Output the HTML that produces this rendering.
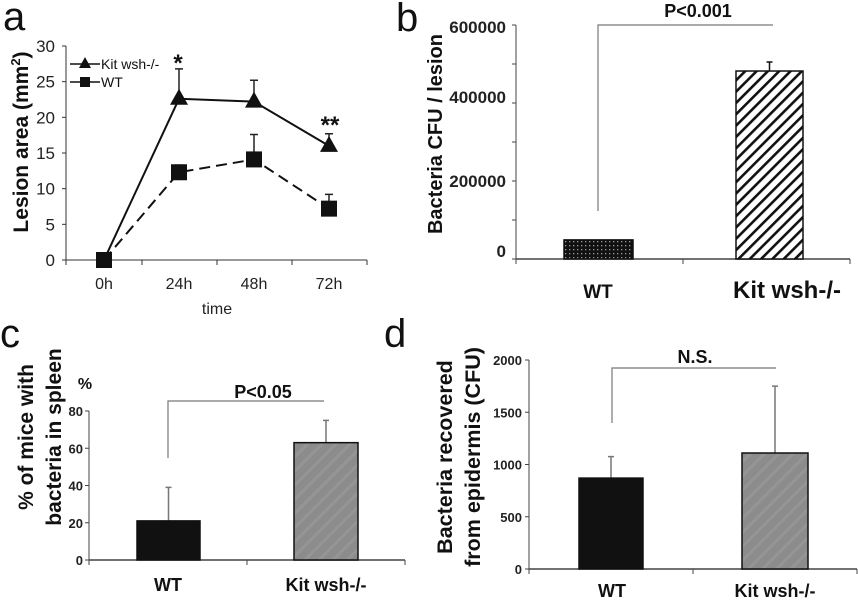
<!DOCTYPE html>
<html><head><meta charset="utf-8"><style>
html,body{margin:0;padding:0;background:#fff;}
svg{display:block;font-family:"Liberation Sans",Arial,sans-serif;}
</style></head><body>
<svg id="fig" width="858" height="600" viewBox="0 0 858 600" xmlns="http://www.w3.org/2000/svg">
<defs>
<pattern id="dots" width="4" height="4" patternUnits="userSpaceOnUse"><rect width="4" height="4" fill="#111"/><rect x="1" y="1" width="1.3" height="1.3" fill="#999"/></pattern>
<pattern id="hatch" width="8" height="8" patternUnits="userSpaceOnUse" patternTransform="rotate(45)"><rect width="8" height="8" fill="#fff"/><rect width="2.6" height="8" fill="#111"/></pattern>
<pattern id="grayhatch" width="10" height="10" patternUnits="userSpaceOnUse" patternTransform="rotate(45)"><rect width="10" height="10" fill="#8c8c8c"/><rect width="3" height="10" fill="#959595"/></pattern>
</defs>
<g id="pa"></g>
<g id="pb"></g>
<g id="pc"></g>
<g id="pd"></g>
</svg>
<script>
// Panel a data
const aCategories = ["0h","24h","48h","72h"];
const aKitValues = [0, 22.6, 22.2, 16.0];
const aKitErr = [0, 4.2, 3.0, 1.7];
const aWtValues = [0, 12.3, 14.1, 7.2];
const aWtErr = [0, 1.0, 3.5, 2.0];
const aTicks = [0,5,10,15,20,25,30];
// Panel b data
const bCategories = ["WT","Kit wsh-/-"];
const bValues = [49000, 482000];
const bErr = [0, 23000];
const bTickLabels = ["0","200000","400000","600000"];
// Panel c data
const cCategories = ["WT","Kit wsh-/-"];
const cValues = [21, 63];
const cErr = [18, 12];
const cTicks = [0,20,40,60,80];
// Panel d data
const dCategories = ["WT","Kit wsh-/-"];
const dValues = [870, 1110];
const dErr = [205, 640];
const dTicks = [0,500,1000,1500,2000];

const NS="http://www.w3.org/2000/svg";
function mk(parent,tag,attrs,text){const e=document.createElementNS(NS,tag);for(const k in attrs)e.setAttribute(k,attrs[k]);if(text!==undefined)e.textContent=text;parent.appendChild(e);return e;}

// ---------- Panel a ----------
(function(){
const g=document.getElementById('pa');
const y=v=>260-v*(214/30);
const x=i=>104+i*75;
let t=mk(g,'text',{x:3,y:30,'font-size':40,fill:'#111'},'a');


let ax=mk(g,'line',{x1:66,y1:46,x2:66,y2:260,stroke:'#333','stroke-width':1});


let xa=mk(g,'line',{x1:66,y1:260,x2:367,y2:260,stroke:'#333','stroke-width':1});


aTicks.forEach(v=>{
 mk(g,'line',{x1:62,y1:y(v),x2:66,y2:y(v),stroke:'#333'});
 const l=mk(g,'text',{x:55,y:y(v)+6,'font-size':17,'text-anchor':'end',fill:'#222'},String(v));
 
 
});
[66,142,217,292,367].forEach(px=>mk(g,'line',{x1:px,y1:260,x2:px,y2:265,stroke:'#333'}));
aCategories.forEach((c,i)=>{
 const l=mk(g,'text',{x:x(i),y:289,'font-size':16,'text-anchor':'middle',fill:'#222'},c);
 
 
});
let xt=mk(g,'text',{x:217,y:314,'font-size':16,'text-anchor':'middle',fill:'#222'},'time');


let yt=mk(g,'text',{x:0,y:0,'font-size':21,'font-weight':'bold','text-anchor':'middle',fill:'#111',transform:'translate(28,142) rotate(-90)'});
yt.innerHTML='Lesion area (mm<tspan font-size="13" dy="-8">2</tspan><tspan dy="8">)</tspan>';


function err(vals,errs,name){vals.forEach((v,i)=>{if(!errs[i])return;
 const e=mk(g,'path',{d:`M${x(i)},${y(v)}V${y(v+errs[i])}M${x(i)-4},${y(v+errs[i])}H${x(i)+4}`,stroke:'#222','stroke-width':1.5,fill:'none'});
 
 });}
err(aKitValues,aKitErr,'kit');err(aWtValues,aWtErr,'wt');
let lk=mk(g,'polyline',{points:aKitValues.map((v,i)=>x(i)+','+y(v)).join(' '),fill:'none',stroke:'#111','stroke-width':2});


let lw=mk(g,'polyline',{points:aWtValues.map((v,i)=>x(i)+','+y(v)).join(' '),fill:'none',stroke:'#111','stroke-width':2,'stroke-dasharray':'11,6'});


aKitValues.forEach((v,i)=>{if(i===0)return;
 const p=mk(g,'polygon',{points:`${x(i)},${y(v)-10} ${x(i)-9},${y(v)+6} ${x(i)+9},${y(v)+6}`,fill:'#111'});
 
 });
aWtValues.forEach((v,i)=>{
 const p=mk(g,'rect',{x:x(i)-8,y:y(v)-8,width:16,height:16,fill:'#111'});
 
 });
let le1=mk(g,'g',{});


mk(le1,'line',{x1:70,y1:64,x2:100,y2:64,stroke:'#111','stroke-width':1.5});
mk(le1,'polygon',{points:'85,57 79,68 91,68',fill:'#111'});
mk(le1,'text',{x:101,y:69,'font-size':14,fill:'#111'},'Kit wsh-/-');
let le2=mk(g,'g',{});


mk(le2,'line',{x1:70,y1:82,x2:100,y2:82,stroke:'#111','stroke-width':1.5});
mk(le2,'rect',{x:80,y:77,width:10,height:10,fill:'#111'});
mk(le2,'text',{x:101,y:87,'font-size':14,fill:'#111'},'WT');
let s1=mk(g,'text',{x:178,y:71,'font-size':24,'font-weight':'bold','text-anchor':'middle',fill:'#111'},'*');


let s2=mk(g,'text',{x:330,y:133,'font-size':24,'font-weight':'bold','text-anchor':'middle',fill:'#111'},'**');


})();

function barPanel(o){
 const g=document.getElementById(o.id);
 const y=v=>o.y0-v*o.k;
 let l=mk(g,'text',{x:o.lx,y:o.ly,'font-size':40,fill:'#111'},o.letter);
 
 
 let ya=mk(g,'line',{x1:o.ax,y1:o.ytop,x2:o.ax,y2:o.y0,stroke:'#444'});
 
 
 let xa=mk(g,'line',{x1:o.ax,y1:o.y0,x2:o.xend,y2:o.y0,stroke:'#444','stroke-width':1.5});
 
 
 [o.ax,o.xmid,o.xend].forEach(px=>mk(g,'line',{x1:px,y1:o.y0,x2:px,y2:o.y0+5,stroke:'#444'}));
 o.tickVals.forEach(v=>mk(g,'line',{x1:o.ax-4,y1:y(v),x2:o.ax,y2:y(v),stroke:'#444'}));
 o.tickLabels.forEach((s,i)=>{
  const t=mk(g,'text',{x:o.ax-o.tlgap,y:o.tlY(i),'font-size':o.tfs,'font-weight':'bold','text-anchor':'end',fill:'#222'},s);
  
  
 });
 o.values.forEach((v,i)=>{
  const [x1,x2]=o.bars[i];const cx=(x1+x2)/2;
  if(o.err[i]){const e=mk(g,'path',{d:`M${cx},${y(v)}V${y(v+o.err[i])}M${cx-3},${y(v+o.err[i])}H${cx+3}`,stroke:o.errColor,'stroke-width':1.5,fill:'none'});
   
   }
  const r=mk(g,'rect',{x:x1,y:y(v),width:x2-x1,height:o.y0-y(v),fill:o.fills[i],stroke:'#111','stroke-width':1.5});
  
  
  const t=mk(g,'text',{x:o.catX[i],y:o.catY,'font-size':o.cfs[i],'font-weight':'bold','text-anchor':'middle',fill:'#111'},o.cats[i]);
  
  
 });
 const br=o.br;
 let b=mk(g,'path',{d:`M${br.x1},${br.yb}V${br.yt}H${br.x2}`,stroke:'#777','stroke-width':1.2,fill:'none'});
 
 
 let p=mk(g,'text',{x:br.tx,y:br.ty,'font-size':18,'font-weight':'bold','text-anchor':'middle',fill:'#111'},br.text);
 
 
 o.title.forEach((s,i)=>{
  const t=mk(g,'text',{x:0,y:0,'font-size':o.titleFs,'font-weight':'bold','text-anchor':'middle',fill:'#111',transform:`translate(${o.titleX[i]},${o.titleY}) rotate(-90)`},s);
  
  
 });
 return g;
}

barPanel({id:'pb',letter:'b',lx:396,ly:31,ax:516,ytop:25,y0:259,xend:850,xmid:683,k:234/600000,
 tickVals:[0,100000,200000,300000,400000,500000,600000],tickLabels:bTickLabels,
 tlY:i=>[257,187,103,33][i],tlgap:10,tfs:17,
 values:bValues,err:bErr,bars:[[564,633],[736,803]],fills:['url(#dots)','url(#hatch)'],errColor:'#111',
 cats:bCategories,catX:[598,787],catY:298,cfs:[19,24],
 br:{x1:598,x2:773,yb:211,yt:25,tx:698,ty:17,text:'P<0.001'},
 title:['Bacteria CFU / lesion'],titleX:[442],titleY:134,titleFs:20});

const gc=barPanel({id:'pc',letter:'c',lx:0,ly:347,ax:89,ytop:411,y0:560,xend:405,xmid:247,k:149/80,
 tickVals:cTicks,tickLabels:cTicks.map(String),
 tlY:i=>560-cTicks[i]*149/80+5,tlgap:6,tfs:13,
 values:cValues,err:cErr,bars:[[137,200],[294,358]],fills:['#111','url(#grayhatch)'],errColor:'#777',
 cats:cCategories,catX:[168,326],catY:591,cfs:[18,18],
 br:{x1:168,x2:324,yb:458,yt:401,tx:263,ty:398,text:'P<0.05'},
 title:['% of mice with','bacteria in spleen'],titleX:[33,61],titleY:437,titleFs:21});
let pct=mk(gc,'text',{x:85,y:389,'font-size':16,'font-weight':'bold','text-anchor':'middle',fill:'#111'},'%');



barPanel({id:'pd',letter:'d',lx:384,ly:347,ax:529,ytop:360,y0:569,xend:857,xmid:693,k:209/2000,
 tickVals:dTicks,tickLabels:dTicks.map(String),
 tlY:i=>569-dTicks[i]*209/2000+5,tlgap:7,tfs:13,
 values:dValues,err:dErr,bars:[[579,643],[742,808]],fills:['#111','url(#grayhatch)'],errColor:'#777',
 cats:dCategories,catX:[612,775],catY:597,cfs:[18,18],
 br:{x1:612,x2:776,yb:423,yt:368,tx:695,ty:363,text:'N.S.'},
 title:['Bacteria recovered','from epidermis (CFU)'],titleX:[452,480],titleY:457,titleFs:21.5});
</script>
</body></html>
